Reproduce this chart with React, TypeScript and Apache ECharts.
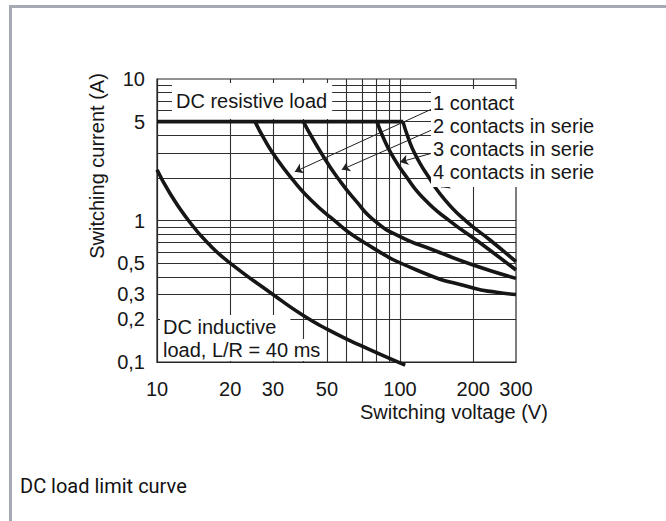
import React, { useEffect, useRef } from "react";
import * as echarts from "echarts";

// ---- data ----
const voltageTicks = [10, 20, 30, 50, 100, 200, 300];
const currentTicks = [0.1, 0.2, 0.3, 0.5, 1, 5, 10];
const voltageGrid = [20, 30, 40, 50, 60, 70, 80, 90, 100, 200];
const currentGrid = [0.2, 0.3, 0.4, 0.5, 0.6, 0.7, 0.8, 0.9, 1, 2, 3, 4, 5, 6, 7, 8, 9];

const resistiveLimit = [[10, 5], [103, 5]];
const oneContact = [[25.3, 5], [27.6, 3.77], [30.9, 2.77], [36.3, 1.93], [42.6, 1.42], [51.5, 1.06], [70.4, 0.708], [117, 0.447], [200, 0.333], [250, 0.311], [300, 0.3]];
const twoContacts = [[40, 5], [48.2, 2.86], [56.6, 1.9], [65.3, 1.4], [78.9, 0.99], [100, 0.77], [137, 0.619], [200, 0.485], [300, 0.39]];
const threeContacts = [[80.4, 5], [85.1, 3.89], [92.7, 2.9], [104.8, 2.1], [126.6, 1.4], [160.5, 0.99], [207, 0.722], [300, 0.447]];
const fourContacts = [[102.8, 5], [107.8, 3.89], [115.2, 2.95], [130.3, 2.06], [153, 1.4], [187, 0.99], [234.5, 0.728], [300, 0.512]];
const inductiveLoad = [[10, 2.28], [11.3, 1.56], [13.6, 0.98], [16.5, 0.67], [20, 0.5], [30, 0.3], [40, 0.213], [51, 0.168], [68, 0.132], [105, 0.095]];

const arrowFrom = [[137, 6.2], [135, 4.36], [135, 2.985], [176, 1.99]];
const arrowTo = [[36.9, 2.21], [57.6, 2.29], [100, 2.59], [148, 1.72]];
const legendLabels = ["1 contact", "2 contacts in serie", "3 contacts in serie", "4 contacts in serie"];

const FONT = "Liberation Sans";
const INK = "#161616";

const fmt = (v: number) => String(Number(v.toPrecision(3))).replace(".", ",");

export default function App() {
  const ref = useRef<HTMLDivElement>(null);
  useEffect(() => {
    const chart = echarts.init(ref.current!, null, { renderer: "svg", width: 666, height: 521 });
    const curve = (name: string, data: number[][], extra: any = {}) => ({
      type: "line",
      name,
      data,
      symbol: "none",
      smooth: 0.55,
      clip: false,
      silent: true,
      z: 3,
      lineStyle: { color: INK, width: 3.6 },
      ...extra,
    });
    const textStyle = { fontFamily: FONT, fontSize: 20, fill: INK };
    chart.setOption({
      animation: false,
      backgroundColor: "#ffffff",
      grid: {
        left: 157, right: 150, top: 79, bottom: 159,
        show: true, borderColor: "#262626", borderWidth: 1.2, backgroundColor: "transparent",
      },
      xAxis: {
        type: "log", logBase: 10, min: 10, max: 300,
        axisLine: { show: true, lineStyle: { color: "#262626", width: 1.2 } },
        axisTick: { show: false },
        splitLine: { show: false },
        axisLabel: { customValues: voltageTicks, margin: 17, color: INK, fontFamily: FONT, fontSize: 20, formatter: fmt },
      },
      yAxis: {
        type: "log", logBase: 10, min: 0.1, max: 10,
        axisLine: { show: true, lineStyle: { color: "#262626", width: 1.2 } },
        axisTick: { show: false },
        splitLine: { show: false },
        axisLabel: { customValues: currentTicks, margin: 12, color: INK, fontFamily: FONT, fontSize: 20, formatter: fmt },
      },
      series: [
        curve("DC inductive load", inductiveLoad, {
          markLine: {
            z: 1, silent: true, symbol: "none", label: { show: false },
            lineStyle: { color: "#303030", width: 1.1, type: "solid" },
            emphasis: { disabled: true },
            data: [
              ...voltageGrid.map((v) => ({ xAxis: v })),
              ...currentGrid.map((c) => ({ yAxis: c })),
            ],
          },
        }),
        curve("DC resistive load", resistiveLimit, {
          smooth: false,
          markLine: {
            z: 4, silent: true, symbol: ["none", "arrow"], symbolSize: 8, label: { show: false },
            lineStyle: { color: "#202020", width: 1, type: "solid" },
            emphasis: { disabled: true },
            data: arrowFrom.map((f, i) => [{ coord: f }, { coord: arrowTo[i] }]),
          },
        }),
        curve(legendLabels[0], oneContact),
        curve(legendLabels[1], twoContacts),
        curve(legendLabels[2], threeContacts),
        curve(legendLabels[3], fourContacts),
      ],
      graphic: [
        { type: "rect", z: 100, shape: { x: 9, y: 5, width: 657, height: 3 }, style: { fill: "#a5a9b1" } },
        { type: "rect", z: 100, shape: { x: 9, y: 5, width: 3, height: 516 }, style: { fill: "#a5a9b1" } },
        {
          type: "text", z: 50, x: 172, y: 101,
          style: { ...textStyle, text: "DC resistive load", verticalAlign: "middle", backgroundColor: "#fff", padding: [8, 5, 8, 4] },
        },
        {
          type: "text", z: 50, x: 431, y: 89,
          style: { ...textStyle, text: legendLabels.join("\n"), lineHeight: 23, verticalAlign: "top", backgroundColor: "#fff", padding: [2, 4, 4, 2] },
        },
        {
          type: "text", z: 50, x: 160, y: 327,
          style: { ...textStyle, text: "DC inductive", verticalAlign: "middle", backgroundColor: "#fff", padding: [2, 14, 2, 3] },
        },
        {
          type: "text", z: 50, x: 160, y: 350,
          style: { ...textStyle, text: "load, L/R = 40 ms", verticalAlign: "middle", backgroundColor: "#fff", padding: [1, 3, 1, 3] },
        },
        {
          type: "text", z: 50, x: 97, y: 166, rotation: Math.PI / 2,
          style: { ...textStyle, text: "Switching current (A)", align: "center", verticalAlign: "middle" },
        },
        {
          type: "text", z: 50, x: 360, y: 412,
          style: { ...textStyle, text: "Switching voltage (V)", align: "left", verticalAlign: "middle" },
        },
        {
          type: "text", z: 50, x: 20, y: 486,
          style: { fontFamily: "Roboto", fontSize: 20, fill: "#111", text: "DC load limit curve", align: "left", verticalAlign: "middle" },
        },
      ],
    });
    return () => chart.dispose();
  }, []);
  return <div ref={ref} style={{ position: "absolute", left: 0, top: 0, width: 666, height: 521 }} />;
}
